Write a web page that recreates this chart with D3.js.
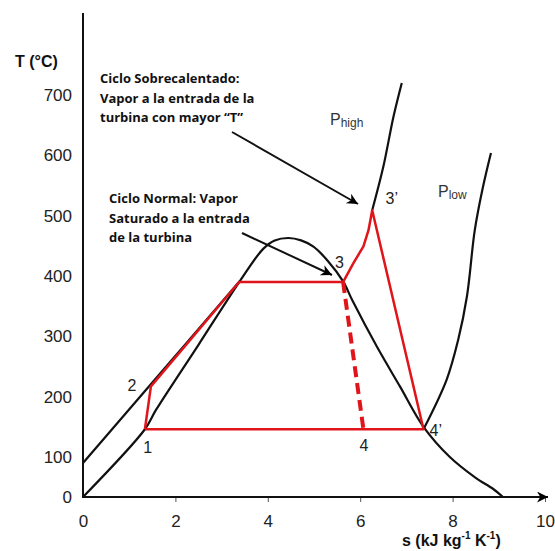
<!DOCTYPE html>
<html>
<head>
<meta charset="utf-8">
<script src="https://cdn.jsdelivr.net/npm/d3@7"></script>
<style>
  body { margin: 0; background: #fff; }
  svg { display: block; }
</style>
</head>
<body>
<div id="grafico"></div>
<script>
const ticksS = [0, 2, 4, 6, 8, 10];
const ticksT = [0, 100, 200, 300, 400, 500, 600, 700];

const campana = [
  [0, 0], [1.34, 146], [1.58, 178], [2.5, 286], [3.40, 392], [3.90, 445], [4.15, 459],
  [4.45, 463], [4.72, 459], [4.98, 449], [5.30, 425], [5.63, 391], [5.84, 358],
  [6.36, 283], [6.86, 217], [7.37, 150], [7.94, 100], [8.50, 48], [8.88, 20], [9.09, 0]
];
const liquidoAlta = [[0, 85], [1.44, 218], [3.40, 392]];
const vaporAlta = [[6.26, 509], [6.50, 581], [6.72, 664], [6.90, 720]];
const vaporBaja = [[7.37, 146], [7.87, 228], [8.12, 294], [8.31, 366], [8.48, 476], [8.65, 545], [8.83, 604]];

const ciclo = [
  [1.34, 146], [1.47, 217], [3.38, 390], [5.63, 390], [5.85, 421], [6.07, 449],
  [6.18, 476], [6.26, 509], [7.37, 146], [1.34, 146]
];
const expansionNormal = [[5.63, 390], [6.07, 146]];

const etiquetasPuntos = [
  { t: "1", s: 1.40, T: 106, anchor: "middle" },
  { t: "2", s: 1.06, T: 210, anchor: "middle" },
  { t: "3", s: 5.55, T: 413, anchor: "middle" },
  { t: "3’", s: 6.55, T: 519, anchor: "start" },
  { t: "4", s: 6.08, T: 110, anchor: "middle" },
  { t: "4’", s: 7.50, T: 134, anchor: "start" }
];

const notaSobre = ["Ciclo Sobrecalentado:", "Vapor a la entrada de la", "turbina con mayor “T”"];
const notaNormal = ["Ciclo Normal: Vapor", "Saturado a la entrada", "de la turbina"];

const ancho = 555, alto = 551;

const x = d3.scaleLinear().domain([0, 10]).range([83, 545]);
// el eje vertical del original no es uniforme entre 0 y 100
const y = d3.scaleLinear().domain([0, 100, 700]).range([497, 457, 95]);

const $svg = d3.select("#grafico")
  .append("svg")
  .attr("width", ancho)
  .attr("height", alto);

const defs = $svg.append("defs");
defs.append("marker")
  .attr("id", "flecha")
  .attr("viewBox", "0 0 10 10")
  .attr("refX", 10).attr("refY", 5)
  .attr("markerWidth", 13).attr("markerHeight", 11)
  .attr("markerUnits", "userSpaceOnUse")
  .attr("orient", "auto")
  .append("path")
  .attr("d", "M0,0 L10,5 L0,10 L3,5 Z")
  .attr("fill", "#000");

// ejes
const ejeX = $svg.append("g")
  .attr("transform", `translate(0,${y(0)})`)
  .call(d3.axisBottom(x).tickValues(ticksS).tickSize(5).tickPadding(13).tickFormat(d3.format("d")));
ejeX.select(".domain").remove();
ejeX.selectAll(".tick line").attr("stroke", "#555").filter(d => d === 0).remove();
ejeX.selectAll("text")
  .attr("font-family", "Liberation Sans, Arial, sans-serif")
  .attr("font-size", 17)
  .attr("fill", "#222");

const ejeY = $svg.append("g")
  .attr("transform", `translate(${x(0)},0)`)
  .call(d3.axisLeft(y).tickValues(ticksT).tickSize(0).tickPadding(11));
ejeY.select(".domain").remove();
ejeY.selectAll("text")
  .attr("font-family", "Liberation Sans, Arial, sans-serif")
  .attr("font-size", 17)
  .attr("fill", "#222");

$svg.append("line")
  .attr("x1", x(0)).attr("y1", 13)
  .attr("x2", x(0)).attr("y2", y(0) + 1)
  .attr("stroke", "#111").attr("stroke-width", 2);

$svg.append("line")
  .attr("x1", x(0) - 1).attr("y1", y(0))
  .attr("x2", x(10) + 3).attr("y2", y(0))
  .attr("stroke", "#111").attr("stroke-width", 2)
  .attr("marker-end", "url(#flecha)");

$svg.append("text")
  .attr("x", 15).attr("y", 67)
  .attr("font-family", "Liberation Sans, Arial, sans-serif")
  .attr("font-weight", "bold")
  .attr("font-size", 16)
  .attr("fill", "#111")
  .text("T (°C)");

const tituloS = $svg.append("text")
  .attr("x", 402).attr("y", 546)
  .attr("font-family", "Liberation Sans, Arial, sans-serif")
  .attr("font-weight", "bold")
  .attr("font-size", 16)
  .attr("fill", "#111");
tituloS.append("tspan").text("s (kJ kg");
tituloS.append("tspan").attr("dy", -7).attr("font-size", 10).text("-1");
tituloS.append("tspan").attr("dy", 7).text(" K");
tituloS.append("tspan").attr("dy", -7).attr("font-size", 10).text("-1");
tituloS.append("tspan").attr("dy", 7).text(")");

// curvas
const linea = d3.line().x(d => x(d[0])).y(d => y(d[1]));
const suave = d3.line().x(d => x(d[0])).y(d => y(d[1])).curve(d3.curveCatmullRom);

[campana, liquidoAlta, vaporAlta, vaporBaja].forEach(datos => {
  $svg.append("path")
    .attr("d", suave(datos))
    .attr("fill", "none")
    .attr("stroke", "#111")
    .attr("stroke-width", 2.2);
});

$svg.append("path")
  .attr("d", linea(ciclo))
  .attr("fill", "none")
  .attr("stroke", "#e0141b")
  .attr("stroke-width", 2.5)
  .attr("stroke-linejoin", "round");

$svg.append("path")
  .attr("d", linea(expansionNormal))
  .attr("fill", "none")
  .attr("stroke", "#e0141b")
  .attr("stroke-width", 4)
  .attr("stroke-dasharray", "11,6");

// etiquetas de puntos
$svg.selectAll(".punto")
  .data(etiquetasPuntos)
  .join("text")
  .attr("class", "punto")
  .attr("x", d => x(d.s))
  .attr("y", d => y(d.T))
  .attr("text-anchor", d => d.anchor)
  .attr("font-family", "Liberation Sans, Arial, sans-serif")
  .attr("font-size", 16)
  .attr("fill", "#222")
  .text(d => d.t);

// presiones
const presion = (px, py, sub) => {
  const t = $svg.append("text")
    .attr("x", px).attr("y", py)
    .attr("font-family", "Liberation Sans, Arial, sans-serif")
    .attr("font-size", 16)
    .attr("fill", "#333");
  t.append("tspan").text("P");
  t.append("tspan").attr("dy", 2).attr("font-size", 12).text(sub);
};
presion(330, 125, "high");
presion(438, 197, "low");

// notas con flechas
const nota = (lineas, px, py) => {
  $svg.append("g").selectAll("text")
    .data(lineas)
    .join("text")
    .attr("x", px)
    .attr("y", (d, i) => py + i * 19.5)
    .attr("font-family", "Open Sans, sans-serif")
    .attr("font-weight", "bold")
    .attr("font-size", 13)
    .attr("fill", "#111")
    .text(d => d);
};
nota(notaSobre, 100, 83);
nota(notaNormal, 109, 203);

$svg.append("line")
  .attr("x1", 232).attr("y1", 132)
  .attr("x2", 358).attr("y2", 204)
  .attr("stroke", "#111").attr("stroke-width", 2)
  .attr("marker-end", "url(#flecha)");

$svg.append("line")
  .attr("x1", 242).attr("y1", 233)
  .attr("x2", 332).attr("y2", 275)
  .attr("stroke", "#111").attr("stroke-width", 2)
  .attr("marker-end", "url(#flecha)");
</script>
</body>
</html>
